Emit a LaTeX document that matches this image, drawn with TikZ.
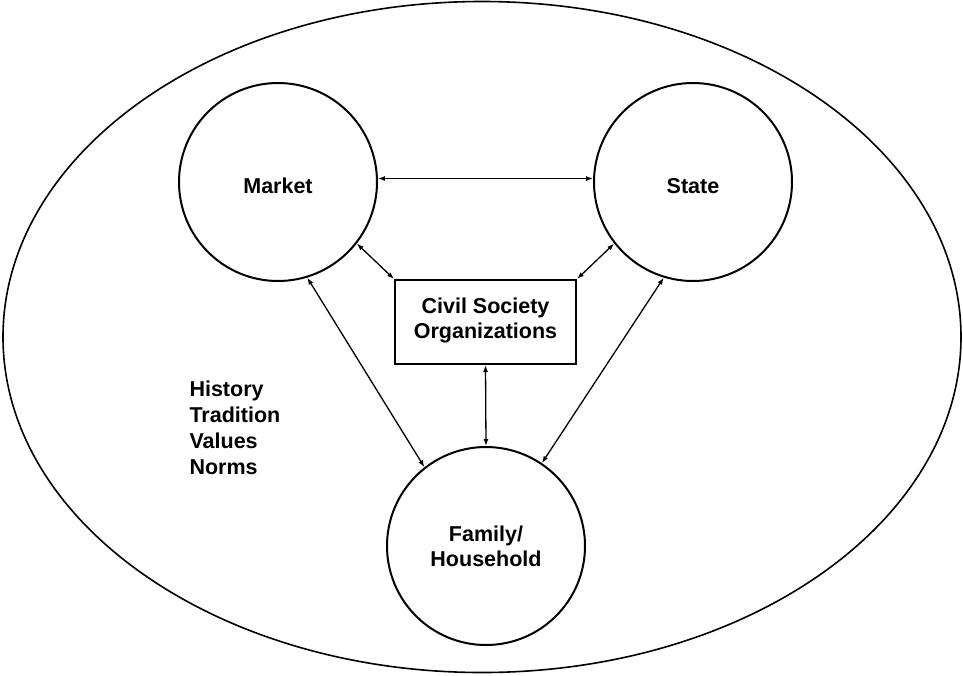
\documentclass[tikz,border=0pt]{standalone}
\usepackage{fontspec}
\setmainfont{Liberation Sans}
\usetikzlibrary{arrows.meta,shapes.geometric}
\begin{document}
\begin{tikzpicture}[x=1pt,y=-1pt,
  lbl/.style={font=\bfseries\fontsize{21.5}{25}\selectfont, align=center},
  sector/.style={circle, draw, line width=2pt, minimum size=198pt, inner sep=0pt, lbl},
  link/.style={line width=1.3pt, {Latex[length=7pt,width=5pt]}-{Latex[length=7pt,width=5pt]}}]
\useasboundingbox (0,0) rectangle (963,675);
\node[ellipse, draw, line width=1.6pt, minimum width=958pt, minimum height=671pt, inner sep=0pt] (E) at (482,337) {};
\node[sector] (M) at (278,182) {\raisebox{-4pt}[\height][\depth]{Market}};
\node[sector] (S) at (693,182) {\raisebox{-4pt}[\height][\depth]{State}};
\node[sector] (F) at (486,546) {Family/\\Household};
\node[draw, line width=2pt, minimum width=181pt, minimum height=84pt, inner sep=0pt, lbl] (C) at (485.5,322) {\raisebox{2pt}[\height][\depth]{Civil Society}\\\raisebox{2pt}[\height][\depth]{Organizations}};
\node[lbl, align=left, anchor=north west, font=\bfseries\fontsize{21.5}{26}\selectfont] (H) at (186,377) {History\\Tradition\\Values\\Norms};
\draw[link] (M.2) -- (S.178);
\draw[link] (M.-38) -- (C.north west);
\draw[link] (S.-142) -- (C.north east);
\draw[link] (M.-73) -- (F.128);
\draw[link] (S.-107) -- (F.56);
\draw[link] (C.south) -- (F.north);
\end{tikzpicture}
\end{document}
